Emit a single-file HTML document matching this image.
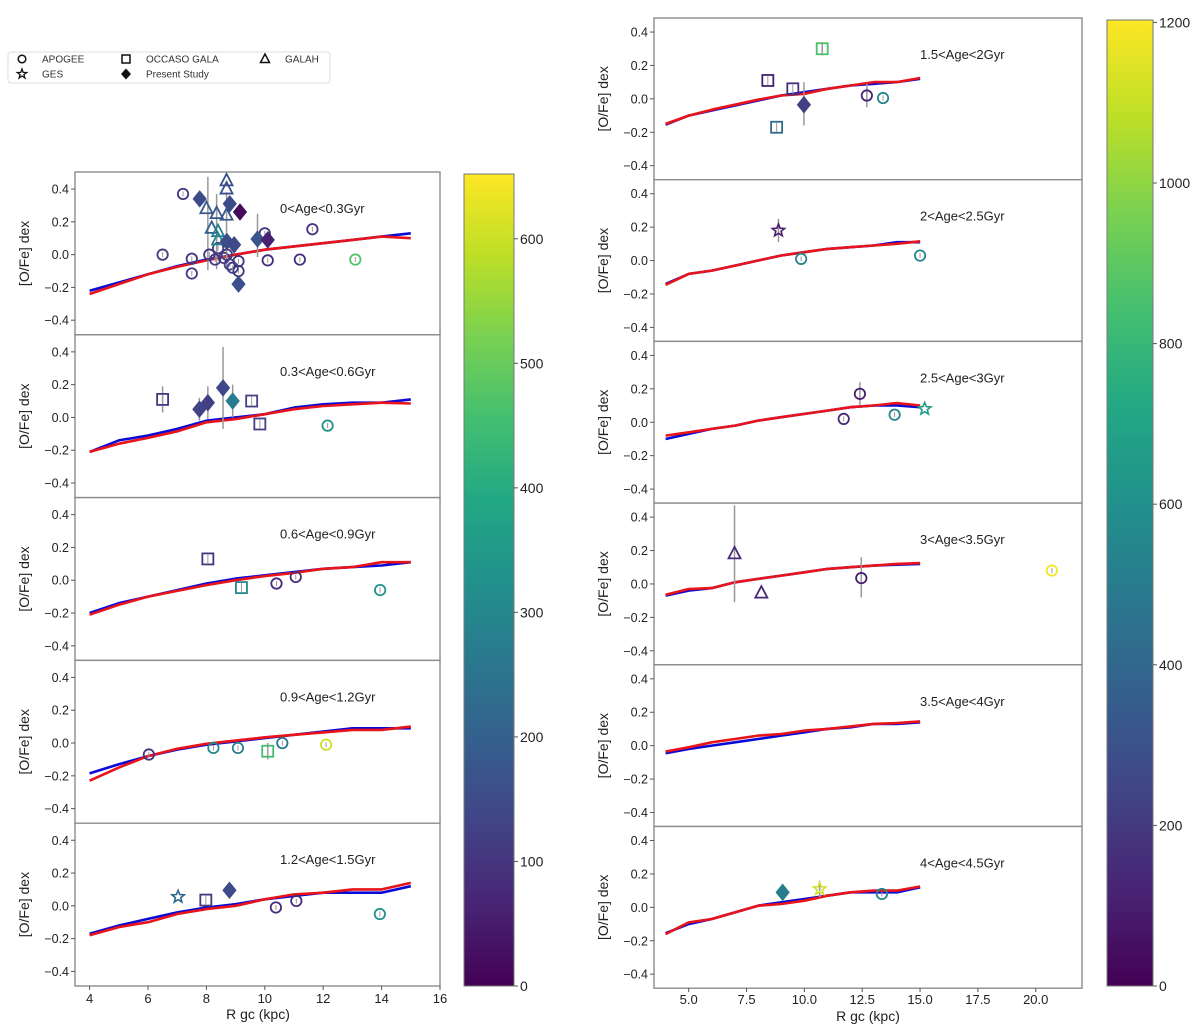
<!DOCTYPE html>
<html><head><meta charset="utf-8">
<style>
html,body{margin:0;padding:0;background:#fff;}
svg{display:block;font-family:"Liberation Sans",sans-serif;}
</style></head>
<body>
<svg id="fig" width="1200" height="1030" viewBox="0 0 1200 1030"></svg>
<script>
// ---------- data ----------
const gridR = [4,5,6,7,8,9,10,11,12,13,14,15];
const leftLabels = ["0<Age<0.3Gyr","0.3<Age<0.6Gyr","0.6<Age<0.9Gyr","0.9<Age<1.2Gyr","1.2<Age<1.5Gyr"];
const rightLabels = ["1.5<Age<2Gyr","2<Age<2.5Gyr","2.5<Age<3Gyr","3<Age<3.5Gyr","3.5<Age<4Gyr","4<Age<4.5Gyr"];
const L1_blue=[-0.22,-0.17,-0.12,-0.07,-0.03,0.0,0.03,0.05,0.07,0.09,0.11,0.13];
const L1_red =[-0.24,-0.18,-0.12,-0.075,-0.035,0.0,0.03,0.05,0.07,0.09,0.11,0.10];
const L2_blue=[-0.21,-0.14,-0.11,-0.07,-0.02,0.0,0.02,0.06,0.08,0.09,0.09,0.11];
const L2_red =[-0.21,-0.16,-0.125,-0.085,-0.03,-0.01,0.02,0.05,0.07,0.08,0.09,0.085];
const L3_blue=[-0.20,-0.14,-0.10,-0.06,-0.02,0.01,0.03,0.05,0.07,0.08,0.09,0.11];
const L3_red =[-0.21,-0.15,-0.10,-0.065,-0.03,0.0,0.025,0.045,0.07,0.08,0.11,0.11];
const L4_blue=[-0.185,-0.13,-0.08,-0.04,-0.01,0.01,0.03,0.05,0.07,0.09,0.09,0.09];
const L4_red =[-0.23,-0.15,-0.08,-0.035,-0.005,0.015,0.035,0.05,0.065,0.08,0.08,0.10];
const L5_blue=[-0.17,-0.12,-0.08,-0.04,-0.01,0.01,0.04,0.06,0.08,0.08,0.08,0.12];
const L5_red =[-0.18,-0.13,-0.10,-0.05,-0.02,0.0,0.04,0.07,0.08,0.10,0.10,0.14];
const R1_blue=[-0.155,-0.10,-0.07,-0.04,-0.01,0.02,0.04,0.06,0.08,0.09,0.10,0.12];
const R1_red =[-0.15,-0.10,-0.065,-0.035,-0.005,0.02,0.03,0.06,0.08,0.10,0.10,0.125];
const R2_blue=[-0.14,-0.08,-0.06,-0.03,0.0,0.03,0.05,0.07,0.08,0.09,0.11,0.11];
const R2_red =[-0.145,-0.08,-0.06,-0.03,0.0,0.03,0.05,0.07,0.08,0.09,0.10,0.115];
const R3_blue=[-0.10,-0.07,-0.04,-0.02,0.01,0.03,0.05,0.07,0.09,0.10,0.10,0.09];
const R3_red =[-0.08,-0.06,-0.04,-0.02,0.01,0.03,0.05,0.07,0.09,0.10,0.115,0.10];
const R4_blue=[-0.07,-0.04,-0.025,0.01,0.03,0.05,0.07,0.09,0.10,0.11,0.115,0.12];
const R4_red =[-0.065,-0.03,-0.025,0.01,0.03,0.05,0.07,0.09,0.10,0.11,0.12,0.125];
const R5_blue=[-0.045,-0.02,0.0,0.02,0.04,0.06,0.08,0.10,0.11,0.13,0.13,0.14];
const R5_red =[-0.035,-0.01,0.02,0.04,0.06,0.07,0.09,0.10,0.115,0.13,0.135,0.145];
const R6_blue=[-0.155,-0.10,-0.07,-0.03,0.01,0.03,0.05,0.07,0.09,0.09,0.09,0.12];
const R6_red =[-0.16,-0.09,-0.07,-0.03,0.01,0.02,0.04,0.07,0.09,0.10,0.10,0.125];
// points: [R, OFe, errLo, errHi, type, colourValue]   (type: c=APOGEE, s=OCCASO, t=GALAH, g=GES, d=Present)
const L1_pts=[[8.05,0.19,-0.094,0.475,'e',0],[8.35,0.14,-0.09,0.37,'e',0],[8.69,0.14,-0.09,0.38,'e',0],[9.75,0.12,-0.015,0.25,'e',0],
[7.2,0.37,null,null,'c',100],[6.5,0.0,null,null,'c',110],[7.5,-0.025,null,null,'c',100],[7.5,-0.115,null,null,'c',110],[8.1,0.0,null,null,'c',100],
[8.4,0.04,null,null,'c',120],[8.6,-0.02,null,null,'c',110],[8.8,-0.06,null,null,'c',120],[9.1,-0.04,null,null,'c',100],[9.1,-0.1,null,null,'c',90],
[8.9,-0.08,null,null,'c',120],[8.3,-0.03,null,null,'c',110],[8.7,0.0,null,null,'c',110],[10.0,0.13,null,null,'c',100],[10.1,-0.035,null,null,'c',80],
[11.2,-0.03,null,null,'c',90],[11.63,0.155,null,null,'c',90],[13.1,-0.03,null,null,'c',470],
[8.69,0.45,null,null,'t',160],[8.69,0.40,null,null,'t',160],[8.0,0.28,null,null,'t',180],[8.35,0.25,null,null,'t',170],[8.69,0.24,null,null,'t',180],
[8.18,0.16,null,null,'t',200],[8.4,0.14,null,null,'t',280],[8.4,0.09,null,null,'t',300],
[7.77,0.34,null,null,'d',150],[8.8,0.31,null,null,'d',150],[9.15,0.26,null,null,'d',20],[8.7,0.08,null,null,'d',150],[8.95,0.06,null,null,'d',140],
[9.75,0.095,null,null,'d',170],[10.1,0.09,null,null,'d',60],[9.1,-0.18,null,null,'d',160]];
const L2_pts=[[6.5,0.11,0.03,0.19,'s',100],[7.76,0.05,-0.02,0.12,'d',130],[8.05,0.09,-0.01,0.19,'d',120],[8.57,0.18,-0.07,0.43,'d',140],
[8.9,0.10,0.0,0.20,'d',270],[9.55,0.10,null,null,'s',120],[9.83,-0.04,null,null,'s',120],[12.15,-0.05,null,null,'c',330]];
const L3_pts=[[8.05,0.13,null,null,'s',100],[9.2,-0.045,null,null,'s',300],[10.4,-0.02,null,null,'c',80],[11.06,0.02,null,null,'c',80],[13.95,-0.06,null,null,'c',330]];
const L4_pts=[[6.03,-0.07,null,null,'c',100],[8.24,-0.03,null,null,'c',300],[9.08,-0.03,null,null,'c',280],[10.1,-0.05,-0.1,0.0,'s',450],
[10.6,0.0,null,null,'c',250],[12.1,-0.01,null,null,'c',600]];
const L5_pts=[[7.03,0.055,null,null,'g',220],[7.98,0.035,null,null,'s',110],[8.79,0.095,null,null,'d',150],[10.38,-0.01,null,null,'c',80],
[11.08,0.03,null,null,'c',80],[13.94,-0.05,null,null,'c',330]];
const R1_pts=[[8.42,0.11,null,null,'s',100],[9.5,0.06,null,null,'s',150],[8.8,-0.17,null,null,'s',420],[10.77,0.30,0.26,0.34,'s',850],
[9.98,-0.035,-0.16,0.10,'d',220],[12.7,0.02,-0.05,0.09,'c',120],[13.4,0.005,null,null,'c',540]];
const R2_pts=[[8.88,0.18,0.11,0.25,'g',100],[9.86,0.01,null,null,'c',540],[15.0,0.03,null,null,'c',540]];
const R3_pts=[[11.7,0.02,null,null,'c',130],[12.4,0.17,0.10,0.24,'c',100],[13.9,0.045,null,null,'c',540],[15.2,0.08,null,null,'g',660]];
const R4_pts=[[6.98,0.18,-0.11,0.47,'t',150],[8.14,-0.055,null,null,'t',120],[12.46,0.035,-0.08,0.16,'c',100],[20.7,0.08,null,null,'c',1180]];
const R5_pts=[];
const R6_pts=[[9.06,0.09,null,null,'d',500],[10.66,0.11,0.06,0.16,'g',1120],[13.35,0.08,null,null,'c',540]];
const leftXTicks=[4,6,8,10,12,14,16];
const rightXTicks=[5,7.5,10,12.5,15,17.5,20];
const yTicks=[-0.4,-0.2,0,0.2,0.4];
const leftCbTicks=[0,100,200,300,400,500,600];
const rightCbTicks=[0,200,400,600,800,1000,1200];

// ---------- helpers ----------
const NS="http://www.w3.org/2000/svg";
const svg=document.getElementById('fig');
function mk(tag,attrs,parent){const e=document.createElementNS(NS,tag);for(const k in attrs)e.setAttribute(k,attrs[k]);(parent||svg).appendChild(e);return e;}
const VIR=["#440154","#482475","#414487","#355f8d","#2a788e","#21918c","#22a884","#44bf70","#7ad151","#bddf26","#fde725"];
function hex(h){return [parseInt(h.slice(1,3),16),parseInt(h.slice(3,5),16),parseInt(h.slice(5,7),16)];}
function viridis(t){t=Math.max(0,Math.min(1,t));const p=t*10,i=Math.min(9,Math.floor(p)),f=p-i;const a=hex(VIR[i]),b=hex(VIR[i+1]);
return 'rgb('+a.map((v,k)=>Math.round(v+(b[k]-v)*f)).join(',')+')';}

function drawMarker(g,type,cx,cy,col){
  let e;
  if(type==='c'){e=mk('circle',{cx,cy,r:5.2,fill:'none',stroke:col,'stroke-width':1.8},g);
    mk('line',{x1:cx,x2:cx,y1:cy-2.5,y2:cy+2.5,stroke:'#999','stroke-width':1},g);}
  else if(type==='s'){e=mk('rect',{x:cx-5.5,y:cy-5.5,width:11,height:11,fill:'none',stroke:col,'stroke-width':1.8},g);
    mk('line',{x1:cx,x2:cx,y1:cy-5,y2:cy+5,stroke:'#999','stroke-width':1},g);}
  else if(type==='t'){e=mk('polygon',{points:`${cx},${cy-7} ${cx-6},${cy+4.5} ${cx+6},${cy+4.5}`,fill:'none',stroke:col,'stroke-width':1.8},g);}
  else if(type==='d'){e=mk('polygon',{points:`${cx},${cy-8} ${cx+6.5},${cy} ${cx},${cy+8} ${cx-6.5},${cy}`,fill:col,stroke:col,'stroke-width':1},g);}
  else if(type==='g'){let pts=[];for(let k=0;k<10;k++){const r=k%2?2.8:6.5,a=-Math.PI/2+k*Math.PI/5;pts.push((cx+r*Math.cos(a)).toFixed(1)+','+(cy+r*Math.sin(a)).toFixed(1));}
    e=mk('polygon',{points:pts.join(' '),fill:'none',stroke:col,'stroke-width':1.6},g);}
  return e;
}

function panel(opt){
  const {x0,x1,top,h,xmin,xmax,ymin,ymax,blue,red,pts,label,cmax,idx,side,labX}=opt;
  const sx=v=>x0+(v-xmin)/(xmax-xmin)*(x1-x0);
  const sy=v=>top+(ymax-v)/(ymax-ymin)*h;
  const g=mk('g',{});
  
  
  mk('rect',{x:x0,y:top,width:x1-x0,height:h,fill:'#fff',stroke:'#8c8c8c','stroke-width':1.4},g);
  yTicks.forEach(t=>{const y=sy(t);mk('line',{x1:x0-4,x2:x0,y1:y,y2:y,stroke:'#555','stroke-width':1},g);
    const tx=mk('text',{x:x0-6,y:y+4.5,'text-anchor':'end','font-size':12.5,fill:'#222'},g);tx.textContent=(t<0?'\u2212':'')+Math.abs(t).toFixed(1);});
  const yl=mk('text',{x:0,y:0,transform:`translate(${x0-46},${top+h/2}) rotate(-90)`,'text-anchor':'middle','font-size':14,fill:'#222'},g);
  yl.textContent='[O/Fe] dex';
  
  
  // lines
  const lineD=arr=>arr.map((v,i)=>(i?'L':'M')+sx(gridR[i]).toFixed(1)+','+sy(v).toFixed(1)).join(' ');
  const bl=mk('path',{d:lineD(blue),fill:'none',stroke:'#0a0ad8','stroke-width':2.6,'stroke-linejoin':'round'},g);
  
  
  const rl=mk('path',{d:lineD(red),fill:'none',stroke:'#e8141a','stroke-width':2.6,'stroke-linejoin':'round'},g);
  
  
  // points
  pts.forEach(p=>{
    const [r,v,lo,hi,type,c]=p; const cx=sx(r),cy=sy(v);
    if(lo!==null){const eb=mk('line',{x1:cx,x2:cx,y1:sy(hi),y2:sy(lo),stroke:'#999','stroke-width':1.5},g);
      
      }
    if(type==='e')return;
    const m=drawMarker(g,type,cx,cy,viridis(c/cmax));
    
    
  });
  const lt=mk('text',{x:labX,y:top+41,'font-size':13,fill:'#222'},g);lt.textContent=label;
  
  
  return {sx};
}

// ---------- left column ----------
const leftBlue=[L1_blue,L2_blue,L3_blue,L4_blue,L5_blue], leftRed=[L1_red,L2_red,L3_red,L4_red,L5_red];
const leftPts=[L1_pts,L2_pts,L3_pts,L4_pts,L5_pts];
const LH=162.8; let lsx;
for(let i=0;i<5;i++){
  const r=panel({x0:75,x1:440,top:172+LH*i,h:LH,xmin:3.5,xmax:16,ymin:-0.489,ymax:0.504,blue:leftBlue[i],red:leftRed[i],pts:leftPts[i],label:leftLabels[i],cmax:650,idx:i+1,side:'left',labX:280});
  lsx=r.sx;
}
leftXTicks.forEach(t=>{const x=lsx(t);mk('line',{x1:x,x2:x,y1:986,y2:990,stroke:'#555'});
  const tx=mk('text',{x:x,y:1003,'text-anchor':'middle','font-size':13,fill:'#222'});tx.textContent=t;});
const lxt=mk('text',{x:258,y:1019,'text-anchor':'middle','font-size':14,fill:'#222'});lxt.textContent='R gc (kpc)';



// ---------- right column ----------
const rightBlue=[R1_blue,R2_blue,R3_blue,R4_blue,R5_blue,R6_blue], rightRed=[R1_red,R2_red,R3_red,R4_red,R5_red,R6_red];
const rightPts=[R1_pts,R2_pts,R3_pts,R4_pts,R5_pts,R6_pts];
const RH=161.7; let rsx;
for(let i=0;i<6;i++){
  const r=panel({x0:654,x1:1082,top:18+RH*i,h:RH,xmin:3.5,xmax:22,ymin:-0.484,ymax:0.484,blue:rightBlue[i],red:rightRed[i],pts:rightPts[i],label:rightLabels[i],cmax:1200,idx:i+1,side:'right',labX:920});
  rsx=r.sx;
}
rightXTicks.forEach(t=>{const x=rsx(t);mk('line',{x1:x,x2:x,y1:988,y2:992,stroke:'#555'});
  const tx=mk('text',{x:x,y:1004,'text-anchor':'middle','font-size':13,fill:'#222'});tx.textContent=t.toFixed(1);});
const rxt=mk('text',{x:868,y:1021,'text-anchor':'middle','font-size':14,fill:'#222'});rxt.textContent='R gc (kpc)';



// ---------- colorbars ----------
const defs=mk('defs',{});
const grad=mk('linearGradient',{id:'vir',x1:0,y1:1,x2:0,y2:0},defs);
VIR.forEach((c,i)=>mk('stop',{offset:(i*10)+'%','stop-color':c},grad));
function colorbar(x,w,top,bottom,max,ticks,name){
  const g=mk('g',{});
  
  
  const clampedTop=top;
  mk('rect',{x,y:clampedTop,width:w,height:bottom-clampedTop,fill:'url(#vir)',stroke:'#777','stroke-width':1},g);
  ticks.forEach(t=>{const y=bottom-(t/max)*(bottom-top);mk('line',{x1:x+w,x2:x+w+4,y1:y,y2:y,stroke:'#555'},g);
    const tx=mk('text',{x:x+w+6,y:y+5,'font-size':14,fill:'#222'},g);tx.textContent=t;});
}
colorbar(464,50,174,986,652,leftCbTicks,'left-colorbar');
colorbar(1107,46,20,986,1203,rightCbTicks,'right-colorbar');

// ---------- legend ----------
const lg=mk('g',{});


mk('rect',{x:8,y:52,width:322,height:31,rx:3,fill:'#fff',stroke:'#ddd','stroke-width':1},lg);
const legItems=[['c',22,59,'APOGEE',42],['s',126,59,'OCCASO GALA',146],['t',265,59,'GALAH',285],['g',22,74,'GES',42],['d',126,74,'Present Study',146]];
legItems.forEach(it=>{
  const [type,mx,my,txt,tx]=it;
  const eg=mk('g',{},lg);
  
  
  if(type==='c')mk('circle',{cx:mx,cy:my,r:3.8,fill:'none',stroke:'#111','stroke-width':1.5},eg);
  else if(type==='s')mk('rect',{x:mx-4,y:my-4,width:8,height:8,fill:'none',stroke:'#111','stroke-width':1.5},eg);
  else if(type==='t')mk('polygon',{points:`${mx},${my-5} ${mx-4.5},${my+3.5} ${mx+4.5},${my+3.5}`,fill:'none',stroke:'#111','stroke-width':1.5},eg);
  else if(type==='g'){let p=[];for(let k=0;k<10;k++){const r=k%2?2:5,a=-Math.PI/2+k*Math.PI/5;p.push((mx+r*Math.cos(a)).toFixed(1)+','+(my+r*Math.sin(a)).toFixed(1));}
    mk('polygon',{points:p.join(' '),fill:'none',stroke:'#111','stroke-width':1.3},eg);}
  else mk('polygon',{points:`${mx},${my-5.5} ${mx+5},${my} ${mx},${my+5.5} ${mx-5},${my}`,fill:'#111'},eg);
  const t=mk('text',{x:tx,y:my+3.5,'font-size':10,fill:'#333'},eg);t.textContent=txt;
});
</script>
</body></html>
